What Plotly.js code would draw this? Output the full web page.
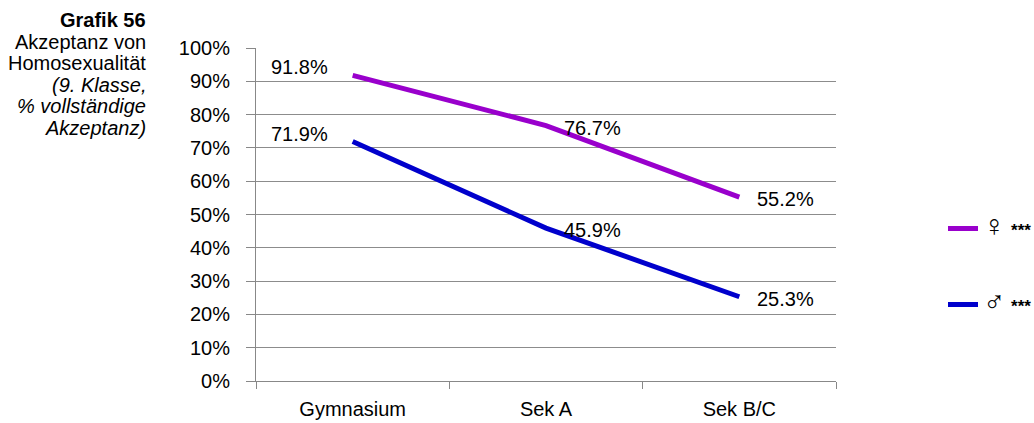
<!DOCTYPE html>
<html>
<head>
<meta charset="utf-8">
<script src="https://cdn.plot.ly/plotly-3.0.1.min.js"></script>
<style>
  html, body { margin: 0; padding: 0; background: #fff; }
  #chart { width: 1034px; height: 423px; }
</style>
</head>
<body>
<div id="chart"></div>
<script>
const categories = ["Gymnasium", "Sek A", "Sek B/C"];
const femaleValues = [91.8, 76.7, 55.2];
const maleValues = [71.9, 45.9, 25.3];
const seriesSymbols = ["♀", "♂"];
const seriesSignificance = ["***", "***"];
const femaleColor = "#9900CC";
const maleColor = "#0000CC";
const titleLines = ["<b>Grafik 56</b>", "Akzeptanz von", "Homosexualität", "<i>(9. Klasse,</i>", "<i>% vollständige</i>", "<i>Akzeptanz)</i>"];

const FONT = "'Liberation Sans', Arial, sans-serif";
const FS = 20;

function legendName(i) {
  return '<span style="font-size:30px">' + seriesSymbols[i] +
    '</span> <span style="font-size:17px;font-weight:bold">' + seriesSignificance[i] + '</span>';
}

const traces = [
  { x: categories, y: femaleValues, name: legendName(0), type: "scatter", mode: "lines",
    line: { color: femaleColor, width: 5 }, legendgroup: "f", hoverinfo: "skip" },
  { x: categories, y: maleValues, name: legendName(1), type: "scatter", mode: "lines",
    line: { color: maleColor, width: 5 }, legendgroup: "m", hoverinfo: "skip" }
];

const annotations = [];
function addLabels(vals) {
  vals.forEach((v, i) => {
    annotations.push({
      x: categories[i], y: v, xref: "x", yref: "y",
      text: v.toFixed(1) + "%", showarrow: false,
      xshift: i === 0 ? -53 : 46, yshift: i === 0 ? 8 : -2,
      font: { family: FONT, size: FS, color: "#000" }
    });
  });
}
addLabels(femaleValues);
addLabels(maleValues);

const L = 256, R = 198, T = 48, B = 42, W = 1034, H = 423;
const pw = W - L - R, ph = H - T - B;

titleLines.forEach((t, i) => {
  annotations.push({
    x: (148 - L) / pw, y: (H - B - (20 + i * 21.5)) / ph, xref: "paper", yref: "paper",
    text: t, showarrow: false, xanchor: "right", yanchor: "middle", align: "right",
    font: { family: FONT, size: FS, color: "#000" }
  });
});

const layout = {
  width: W, height: H,
  margin: { l: L, r: R, t: T, b: B, pad: 0, autoexpand: false },
  paper_bgcolor: "#fff", plot_bgcolor: "#fff",
  font: { family: FONT, size: FS, color: "#000" },
  showlegend: true,
  legend: {
    x: (943 - L) / pw, y: (H - B - 209) / ph, xanchor: "left", yanchor: "top",
    traceorder: "grouped", tracegroupgap: 47,
    font: { family: FONT, size: FS, color: "#000" },
    bgcolor: "rgba(0,0,0,0)", itemwidth: 30
  },
  xaxis: {
    type: "category", range: [-0.5, 2.5], tickson: "boundaries",
    ticks: "outside", ticklen: 7, tickcolor: "#888", tickwidth: 1,
    ticklabelstandoff: 10,
    showline: true, linecolor: "#888", linewidth: 1,
    showgrid: false, zeroline: false, fixedrange: true,
    tickfont: { family: FONT, size: FS, color: "#000" }
  },
  yaxis: {
    range: [0, 100], dtick: 10, tick0: 0, ticksuffix: "%",
    ticks: "outside", ticklen: 9, tickcolor: "#888", tickwidth: 1,
    ticklabelstandoff: 12,
    showline: true, linecolor: "#888", linewidth: 1,
    showgrid: true, gridcolor: "#8c8c8c", gridwidth: 1, zeroline: false, fixedrange: true,
    tickfont: { family: FONT, size: FS, color: "#000" }
  },
  annotations: annotations
};

Plotly.newPlot("chart", traces, layout, { displayModeBar: false, staticPlot: true });
</script>
</body>
</html>
